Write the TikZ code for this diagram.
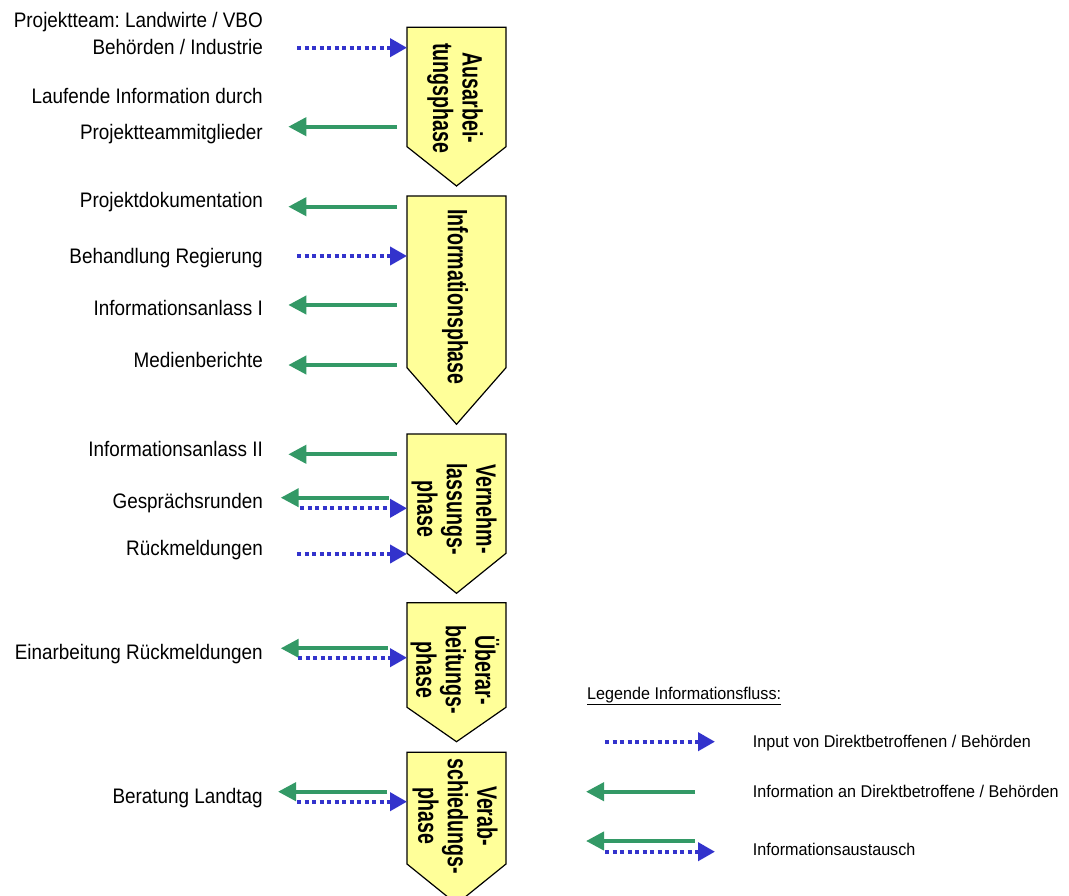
\documentclass[tikz,border=0pt]{standalone}
\usepackage{fontspec}
\setmainfont{Liberation Sans}
\newfontfamily\labelfont[FakeStretch=0.9]{Liberation Sans}
\newfontfamily\phasefont[FakeStretch=0.7]{Liberation Sans}
\newfontfamily\legendfont[FakeStretch=0.95]{Liberation Sans}
\usetikzlibrary{arrows.meta,calc}
\definecolor{phaseyellow}{HTML}{FFFF99}
\definecolor{flowblue}{HTML}{3333CC}
\definecolor{flowgreen}{HTML}{339966}
\frenchspacing

\begin{document}
\begin{tikzpicture}[x=1pt,y=-1pt,
    phasebody/.style={minimum width=99pt,inner sep=0,outer sep=0},
    phasebox/.style={draw=black,fill=phaseyellow,line width=1.2pt},
    phasetext/.style={rotate=-90,align=center,inner sep=0,font=\phasefont\bfseries\fontsize{28}{29.5}\selectfont},
    flowlabel/.style={anchor=base east,align=right,inner sep=0,font=\labelfont\fontsize{21}{27}\selectfont},
    legendlabel/.style={anchor=base west,inner sep=0,font=\legendfont\fontsize{17}{20}\selectfont},
    inflow/.style={draw=flowblue,line width=4pt,dash pattern=on 4pt off 3.5pt,-{Triangle[length=17pt,width=18pt]}},
    outflow/.style={draw=flowgreen,line width=4pt,-{Triangle[length=18pt,width=18pt]}}]
    \useasboundingbox (0,0) rectangle (1069,896);
    \pgfmathsetmacro{\boxmid}{456.5}
    \pgfmathsetmacro{\labelx}{263}

    % phases
    \node[phasebody,minimum height=119.4pt] (p1) at (\boxmid,87) {};
    \node[phasebody,minimum height=171.7pt] (p2) at (\boxmid,281.85) {};
    \node[phasebody,minimum height=119.3pt] (p3) at (\boxmid,493.65) {};
    \node[phasebody,minimum height=104.6pt] (p4) at (\boxmid,655) {};
    \node[phasebody,minimum height=111.7pt] (p5) at (\boxmid,808.15) {};
    \draw[phasebox] (p1.north west) -- (p1.north east) -- (p1.south east) -- ($(p1.south)+(0,39.3)$) -- (p1.south west) -- cycle;
    \draw[phasebox] (p2.north west) -- (p2.north east) -- (p2.south east) -- ($(p2.south)+(0,56.6)$) -- (p2.south west) -- cycle;
    \draw[phasebox] (p3.north west) -- (p3.north east) -- (p3.south east) -- ($(p3.south)+(0,40)$) -- (p3.south west) -- cycle;
    \draw[phasebox] (p4.north west) -- (p4.north east) -- (p4.south east) -- ($(p4.south)+(0,34.4)$) -- (p4.south west) -- cycle;
    \draw[phasebox] (p5.north west) -- (p5.north east) -- (p5.south east) -- ($(p5.south)+(0,40)$) -- (p5.south west) -- cycle;
    \node[phasetext] (t1) at (455,98) {Ausarbei-\\tungsphase};
    \node[phasetext] (t2) at (455,297) {Informationsphase};
    \node[phasetext] (t3) at (454,509) {Vernehm-\\lassungs-\\phase};
    \node[phasetext] (t4) at (455,670) {Überar-\\beitungs-\\phase};
    \node[phasetext] (t5) at (455,816) {Verab-\\schiedungs-\\phase};

    % labels (base = last line)
    \node[flowlabel] (l1) at (\labelx,55) {Projektteam: Landwirte / VBO\\Behörden / Industrie};
    \node[flowlabel] (l2) at (\labelx,140) {Laufende Information durch\\[9pt]Projektteammitglieder};
    \node[flowlabel] (l3) at (\labelx,208) {Projektdokumentation};
    \node[flowlabel] (l4) at (\labelx,263.5) {Behandlung Regierung};
    \node[flowlabel] (l5) at (\labelx,315.5) {Informationsanlass I};
    \node[flowlabel] (l6) at (\labelx,367.5) {Medienberichte};
    \node[flowlabel] (l7) at (\labelx,456.7) {Informationsanlass II};
    \node[flowlabel] (l8) at (\labelx,508) {Gesprächsrunden};
    \node[flowlabel] (l9) at (\labelx,555) {Rückmeldungen};
    \node[flowlabel] (l10) at (\labelx,659) {Einarbeitung Rückmeldungen};
    \node[flowlabel] (l11) at (\labelx,803) {Beratung Landtag};

    % arrow ends
    \coordinate (d1) at (297,47.7);
    \coordinate (g2) at (288.3,126.7);
    \coordinate (g3) at (288.3,206.7);
    \coordinate (d4) at (297,256);
    \coordinate (g5) at (288.3,305);
    \coordinate (g6) at (288.3,365);
    \coordinate (g7) at (288.3,454.3);
    \coordinate (g8) at (280.7,497.7);
    \coordinate (d8) at (300,508.3);
    \coordinate (d9) at (297,554);
    \coordinate (g10) at (280.7,648.3);
    \coordinate (d10) at (298,657.7);
    \coordinate (g11) at (278,791.7);
    \coordinate (d11) at (297,801.7);

    \draw[inflow] (d1) -- (d1 -| p1.west);
    \draw[outflow,shorten <=10pt] (g2 -| p1.west) -- (g2);
    \draw[outflow,shorten <=10pt] (g3 -| p2.west) -- (g3);
    \draw[inflow] (d4) -- (d4 -| p2.west);
    \draw[outflow,shorten <=10pt] (g5 -| p2.west) -- (g5);
    \draw[outflow,shorten <=10pt] (g6 -| p2.west) -- (g6);
    \draw[outflow,shorten <=10pt] (g7 -| p3.west) -- (g7);
    \draw[outflow,shorten <=18pt] (g8 -| p3.west) -- (g8);
    \draw[inflow] (d8) -- (d8 -| p3.west);
    \draw[inflow] (d9) -- (d9 -| p3.west);
    \draw[outflow,shorten <=19pt] (g10 -| p4.west) -- (g10);
    \draw[inflow] (d10) -- (d10 -| p4.west);
    \draw[outflow,shorten <=20pt] (g11 -| p5.west) -- (g11);
    \draw[inflow] (d11) -- (d11 -| p5.west);

    % legend
    \node[legendlabel] (lg) at (587,699) {\underline{Legende Informationsfluss:}};
    \node[legendlabel] (k1) at (752.7,747) {Input von Direktbetroffenen / Behörden};
    \node[legendlabel] (k2) at (752.7,797) {Information an Direktbetroffene / Behörden};
    \node[legendlabel] (k3) at (752.7,855) {Informationsaustausch};
    \coordinate (e1) at (605,741.7);
    \coordinate (e2) at (586,791.7);
    \coordinate (e3) at (586,841);
    \coordinate (e4) at (605,851.7);
    \draw[inflow] (e1) -- ++(110,0);
    \draw[outflow] (e2) ++(109,0) -- (e2);
    \draw[outflow] (e3) ++(109,0) -- (e3);
    \draw[inflow] (e4) -- ++(110,0);
\end{tikzpicture}
\end{document}
